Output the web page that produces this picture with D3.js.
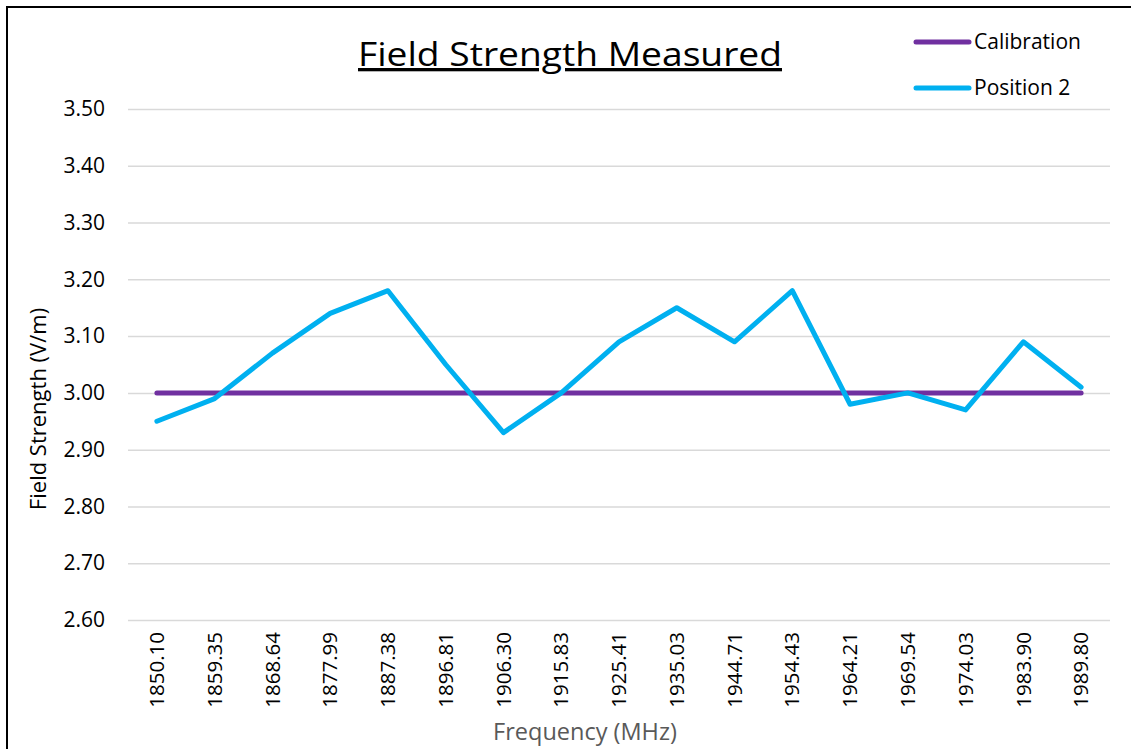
<!DOCTYPE html>
<html>
<head>
<meta charset="utf-8">
<script src="https://cdn.jsdelivr.net/npm/d3@7"></script>
<style>
  body { margin: 0; background: #fff; }
  svg text { font-family: "Open Sans", "Noto Sans", sans-serif; }
  .grid line { stroke: #d9d9d9; stroke-width: 1.5px; }
  .grid path { display: none; }
</style>
</head>
<body>
<svg id="chart" width="1131" height="749"></svg>
<script>
// frequencies (x categories)
var freqs = ["1850.10", "1859.35", "1868.64", "1877.99", "1887.38", "1896.81", "1906.30",
  "1915.83", "1925.41", "1935.03", "1944.71", "1954.43", "1964.21", "1969.54",
  "1974.03", "1983.90", "1989.80"];
var calibration = [3.00, 3.00, 3.00, 3.00, 3.00, 3.00, 3.00, 3.00, 3.00,
  3.00, 3.00, 3.00, 3.00, 3.00, 3.00, 3.00, 3.00];
var position2 = [2.95, 2.99, 3.07, 3.14, 3.18, 3.05, 2.93, 3.00, 3.09,
  3.15, 3.09, 3.18, 2.98, 3.00, 2.97, 3.09, 3.01];
var yTicks = [2.60, 2.70, 2.80, 2.90, 3.00, 3.10, 3.20, 3.30, 3.40, 3.50];

var series = [
  {name: "Calibration", values: calibration, color: "#7030a0"},
  {name: "Position 2", values: position2, color: "#00b0f0"}
];

function draw() {
  var margin = {top: 109, right: 21, bottom: 129, left: 128},
      width = 1131 - margin.left - margin.right,
      height = 749 - margin.top - margin.bottom;

  var root = d3.select("#chart");

  // outer frame (only top and left are in view)
  root.append("rect")
    .attr("x", 7).attr("y", 7)
    .attr("width", 1140).attr("height", 760)
    .attr("fill", "none")
    .attr("stroke", "#000")
    .attr("stroke-width", 2);

  var svg = root.append("g")
    .attr("transform", "translate(" + margin.left + "," + margin.top + ")");

  var x = d3.scaleBand()
    .domain(freqs)
    .range([0, width]);

  var y = d3.scaleLinear()
    .domain([2.6, 3.5])
    .range([height, 0]);

  // gridlines
  svg.append("g")
    .attr("class", "grid")
    .call(d3.axisLeft(y).tickValues(yTicks).tickSize(-width).tickFormat(""));

  // y axis labels
  var yAxis = svg.append("g")
    .call(d3.axisLeft(y).tickValues(yTicks).tickSize(0).tickPadding(23).tickFormat(d3.format(".2f")));
  yAxis.select(".domain").remove();
  yAxis.selectAll("text")
    .style("font-size", "21px")
    .style("fill", "#000");

  // x axis labels
  var xAxis = svg.append("g")
    .attr("transform", "translate(0," + height + ")")
    .call(d3.axisBottom(x).tickSize(0));
  xAxis.select(".domain").remove();
  xAxis.selectAll("text")
    .style("font-size", "20.5px")
    .style("fill", "#000")
    .attr("transform", "rotate(-90)")
    .attr("x", -12)
    .attr("y", 0)
    .attr("dy", "0.35em")
    .style("text-anchor", "end");

  // lines
  var line = d3.line()
    .x(function(d, i) { return x(freqs[i]) + x.bandwidth() / 2; })
    .y(function(d) { return y(d); });

  svg.selectAll(".series")
    .data(series)
    .enter().append("path")
      .attr("class", "series")
      .attr("d", function(d) { return line(d.values); })
      .attr("fill", "none")
      .attr("stroke", function(d) { return d.color; })
      .attr("stroke-width", 5)
      .attr("stroke-linejoin", "round")
      .attr("stroke-linecap", "round");

  // title
  root.append("text")
    .text("Field Strength Measured")
    .attr("x", 570)
    .attr("y", 66)
    .attr("text-anchor", "middle")
    .attr("textLength", 424)
    .attr("lengthAdjust", "spacingAndGlyphs")
    .style("font-size", "33px")
    .style("text-decoration", "underline")
    .style("fill", "#000");

  // axis titles
  root.append("text")
    .text("Frequency (MHz)")
    .attr("x", 585)
    .attr("y", 740)
    .attr("text-anchor", "middle")
    .style("font-size", "23.5px")
    .style("fill", "#595959");

  root.append("text")
    .text("Field Strength (V/m)")
    .attr("transform", "translate(46,409) rotate(-90)")
    .attr("text-anchor", "middle")
    .style("font-size", "22px")
    .style("fill", "#000");

  // legend
  var legend = root.append("g").selectAll("g")
    .data(series)
    .enter().append("g")
      .attr("transform", function(d, i) { return "translate(916," + (42 + i * 46) + ")"; });
  legend.append("line")
    .attr("x1", 0).attr("x2", 53)
    .attr("stroke", function(d) { return d.color; })
    .attr("stroke-width", 5)
    .attr("stroke-linecap", "round");
  legend.append("text")
    .text(function(d) { return d.name; })
    .attr("x", 58)
    .attr("dy", "0.35em")
    .style("font-size", "21px")
    .style("fill", "#000");
}

draw();
</script>
</body>
</html>
